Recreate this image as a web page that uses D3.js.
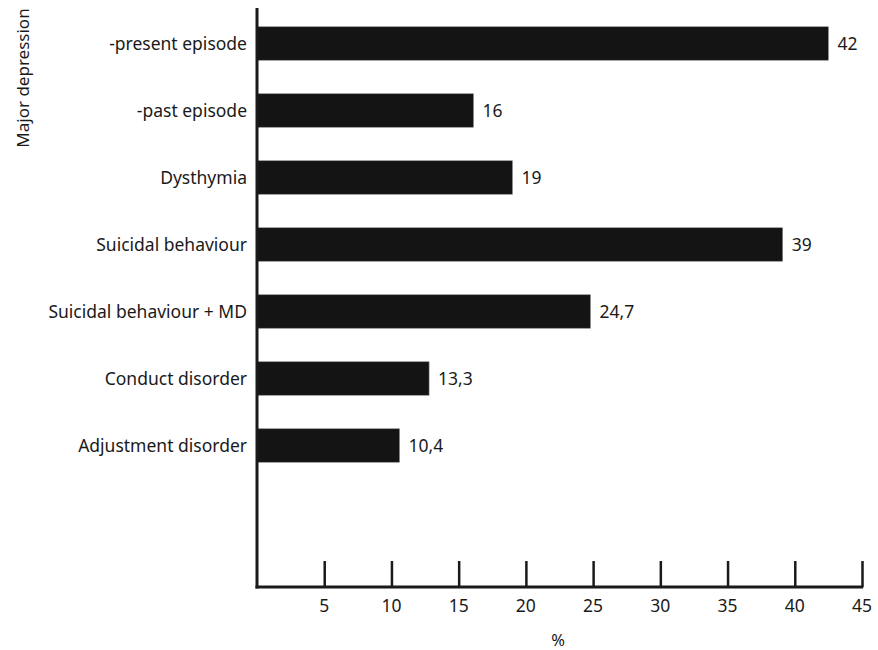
<!DOCTYPE html>
<html>
<head>
<meta charset="utf-8">
<script src="https://d3js.org/d3.v7.min.js"></script>
<style>
  body { margin: 0; background: #fff; }
  text { font-family: "Noto Sans", sans-serif; fill: #1a1a1a; }
</style>
</head>
<body>
<div id="chart"></div>
<script>
const categories = [
  "-present episode",
  "-past episode",
  "Dysthymia",
  "Suicidal behaviour",
  "Suicidal behaviour + MD",
  "Conduct disorder",
  "Adjustment disorder"
];
// bar lengths as drawn in the picture
const values = [42.5, 16.1, 19, 39.1, 24.8, 12.8, 10.6];
const valueLabels = ["42", "16", "19", "39", "24,7", "13,3", "10,4"];
const xTicks = [5, 10, 15, 20, 25, 30, 35, 40, 45];

const width = 878, height = 650;
const x0 = 257, xAxisY = 587, yTop = 8;

const svg = d3.select("#chart").append("svg")
  .attr("width", width)
  .attr("height", height);

const x = d3.scaleLinear().domain([0, 45]).range([x0, 862]);
const y = d3.scaleBand()
  .domain(categories)
  .range([10, 479])
  .paddingInner(0.5)
  .paddingOuter(0.25);

// bars
svg.append("g")
  .selectAll("rect")
  .data(values)
  .enter().append("rect")
  .attr("x", x0)
  .attr("y", (d, i) => y(categories[i]))
  .attr("width", d => x(d) - x0)
  .attr("height", y.bandwidth())
  .attr("fill", "#141414")
  .attr("stroke", "#888")
  .attr("stroke-width", 0.6);

// value labels
svg.append("g")
  .selectAll("text")
  .data(values)
  .enter().append("text")
  .attr("x", d => x(d) + 9)
  .attr("y", (d, i) => y(categories[i]) + y.bandwidth() / 2)
  .attr("dy", "0.36em")
  .attr("font-size", 17.5)
  .text((d, i) => valueLabels[i]);

// category labels
svg.append("g")
  .selectAll("text")
  .data(categories)
  .enter().append("text")
  .attr("x", 247)
  .attr("y", d => y(d) + y.bandwidth() / 2)
  .attr("dy", "0.36em")
  .attr("text-anchor", "end")
  .attr("font-size", 17.5)
  .text(d => d);

// x axis
const xAxis = d3.axisTop(x)
  .tickValues(xTicks)
  .tickSize(26)
  .tickFormat("");
const gx = svg.append("g")
  .attr("transform", `translate(0,${xAxisY})`)
  .call(xAxis);
gx.select(".domain").remove();
gx.selectAll(".tick line").attr("stroke", "#1a1a1a").attr("stroke-width", 2.5);

svg.append("line")
  .attr("x1", x0 - 1.5).attr("x2", x(45) + 1.2)
  .attr("y1", xAxisY).attr("y2", xAxisY)
  .attr("stroke", "#1a1a1a").attr("stroke-width", 3);

svg.append("line")
  .attr("x1", x0).attr("x2", x0)
  .attr("y1", yTop).attr("y2", xAxisY + 1.5)
  .attr("stroke", "#1a1a1a").attr("stroke-width", 3);

// tick labels
svg.append("g")
  .selectAll("text")
  .data(xTicks)
  .enter().append("text")
  .attr("x", d => x(d))
  .attr("y", 606)
  .attr("dy", "0.36em")
  .attr("text-anchor", "middle")
  .attr("font-size", 17.5)
  .text(d => d);

svg.append("text")
  .attr("x", 558)
  .attr("y", 640)
  .attr("dy", "0.36em")
  .attr("text-anchor", "middle")
  .attr("font-size", 16.5)
  .text("%");

svg.append("text")
  .attr("transform", "translate(23,78) rotate(-90)")
  .attr("dy", "0.36em")
  .attr("text-anchor", "middle")
  .attr("font-size", 17)
  .text("Major depression");
</script>
</body>
</html>
